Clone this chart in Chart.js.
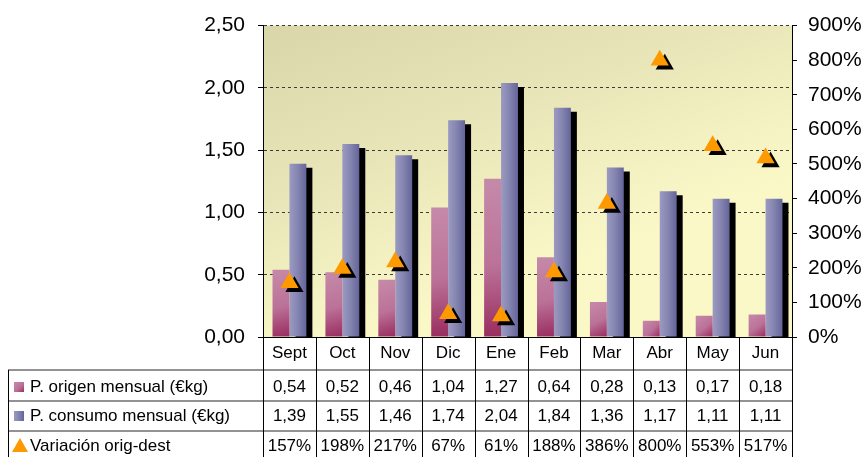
<!DOCTYPE html>
<html>
<head>
<meta charset="utf-8">
<script src="https://cdn.jsdelivr.net/npm/chart.js@4/dist/chart.umd.min.js"></script>
<style>
html,body{margin:0;padding:0;background:#fff;}
#wrap{width:864px;height:457px;position:relative;}
</style>
</head>
<body>
<div id="wrap"><canvas id="c" width="864" height="457"></canvas></div>
<script>
const categories = ['Sept','Oct','Nov','Dic','Ene','Feb','Mar','Abr','May','Jun'];
const origen = [0.54,0.52,0.46,1.04,1.27,0.64,0.28,0.13,0.17,0.18];
const consumo = [1.39,1.55,1.46,1.74,2.04,1.84,1.36,1.17,1.11,1.11];
const variacion = [157,198,217,67,61,188,386,800,553,517];
const seriesNames = ['P. origen mensual (€kg)','P. consumo mensual (€kg)','Variación orig-dest'];
const leftMax = 2.5, leftStep = 0.5;
const rightMax = 900, rightStep = 100;

const FONT = "'Liberation Sans', Arial, sans-serif";
const fmtDec = v => v.toFixed(2).replace('.', ',');
const fmtPct = v => Math.round(v) + '%';

function pinkGrad(ctx, x0, y0, x1, y1){
  const g = ctx.createLinearGradient(x0, y0, x1, y1);
  g.addColorStop(0, '#c68aa9');
  g.addColorStop(0.55, '#bb7298');
  g.addColorStop(1, '#992c5f');
  return g;
}
function purpleGrad(ctx, x0, x1){
  const g = ctx.createLinearGradient(x0, 0, x1, 0);
  g.addColorStop(0, '#9a9ac2');
  g.addColorStop(0.5, '#8484b0');
  g.addColorStop(1, '#64649a');
  return g;
}

const bgPlugin = {
  id: 'bg',
  beforeDraw(chart){
    const {ctx, chartArea: a} = chart;
    ctx.save();
    ctx.fillStyle = '#fff';
    ctx.fillRect(0, 0, chart.width, chart.height);
    const g = ctx.createLinearGradient(a.left, a.top, a.left + 120, a.bottom);
    g.addColorStop(0, '#d9d6a9');
    g.addColorStop(0.5, '#e8e5b8');
    g.addColorStop(1, '#fbf8c8');
    ctx.fillStyle = g;
    ctx.fillRect(a.left, a.top, a.right - a.left, a.bottom - a.top);
    ctx.restore();
  }
};

const shadowPlugin = {
  id: 'shadow',
  beforeDatasetDraw(chart, args){
    const ctx = chart.ctx;
    const idx = args.index;
    const meta = args.meta;
    if (idx === 0 || idx === 1) {
      meta.data.forEach(el => {
        const left = el.x - el.width / 2, right = el.x + el.width / 2;
        const bg = idx === 0 ? pinkGrad(ctx, left, el.y, right, el.base) : purpleGrad(ctx, left, right);
        el.options = Object.assign({}, el.options, {backgroundColor: bg});
      });
    }
    ctx.save();
    if (idx === 1) {
      ctx.shadowColor = '#000';
      ctx.shadowOffsetX = 6;
      ctx.shadowOffsetY = 4;
      ctx.shadowBlur = 0;
    } else if (idx === 2) {
      ctx.shadowColor = '#000';
      ctx.shadowOffsetX = 5;
      ctx.shadowOffsetY = 4;
      ctx.shadowBlur = 0;
    }
  },
  afterDatasetDraw(chart){
    chart.ctx.restore();
  }
};

const tablePlugin = {
  id: 'table',
  afterDraw(chart){
    const {ctx, chartArea: a} = chart;
    const xs = chart.scales.x;
    const n = categories.length;
    const cw = (a.right - a.left) / n;
    const H = chart.height;
    const tableLeft = 8;
    const rowLines = [a.bottom + 33, a.bottom + 64, a.bottom + 94];
    const rowCenters = [a.bottom + 16, a.bottom + 50, a.bottom + 79, a.bottom + 109];
    ctx.save();
    ctx.strokeStyle = '#6e6e6e';
    ctx.lineWidth = 1.5;
    rowLines.forEach(y => {
      ctx.beginPath();
      ctx.moveTo(tableLeft, y);
      ctx.lineTo(a.right, y);
      ctx.stroke();
    });
    ctx.strokeStyle = '#000';
    ctx.lineWidth = 1;
    for (let i = 0; i <= n; i++) {
      const x = Math.round(xs.getPixelForValue(Math.min(i, n - 1)) + (i === n ? cw / 2 : -cw / 2)) + 0.5;
      ctx.beginPath();
      ctx.moveTo(x, a.bottom);
      ctx.lineTo(x, H);
      ctx.stroke();
    }
    ctx.beginPath();
    ctx.moveTo(tableLeft + 0.5, rowLines[0]);
    ctx.lineTo(tableLeft + 0.5, H);
    ctx.stroke();

    ctx.fillStyle = '#000';
    ctx.font = '17px ' + FONT;
    ctx.textAlign = 'center';
    ctx.textBaseline = 'middle';
    categories.forEach((c, i) => {
      const x = xs.getPixelForValue(i);
      ctx.fillText(c, x, rowCenters[0]);
      ctx.fillText(fmtDec(origen[i]), x, rowCenters[1]);
      ctx.fillText(fmtDec(consumo[i]), x, rowCenters[2]);
      ctx.fillText(fmtPct(variacion[i]), x, rowCenters[3]);
    });
    ctx.textAlign = 'left';
    seriesNames.forEach((s, k) => {
      ctx.fillStyle = '#000';
      ctx.fillText(s, 30, rowCenters[k + 1]);
    });
    const ky1 = rowCenters[1] - 5, ky2 = rowCenters[2] - 5;
    ctx.fillStyle = pinkGrad(ctx, 14, ky1, 24, ky1 + 10);
    ctx.fillRect(14, ky1, 10, 10);
    ctx.fillStyle = purpleGrad(ctx, 14, 24);
    ctx.fillRect(14, ky2, 10, 10);
    const ty = rowCenters[3];
    ctx.fillStyle = '#ff9900';
    ctx.beginPath();
    ctx.moveTo(20, ty - 8);
    ctx.lineTo(28, ty + 6);
    ctx.lineTo(12, ty + 6);
    ctx.closePath();
    ctx.fill();
    ctx.restore();
  }
};

new Chart(document.getElementById('c'), {
  data: {
    labels: categories,
    datasets: [
      {type:'bar', label: seriesNames[0], data: origen, yAxisID:'y', backgroundColor:'#c080a0',
       borderWidth:0, categoryPercentage:0.64, barPercentage:1, order:1},
      {type:'bar', label: seriesNames[1], data: consumo, yAxisID:'y', backgroundColor:'#8888b4',
       borderWidth:0, categoryPercentage:0.64, barPercentage:1, order:1},
      {type:'line', label: seriesNames[2], data: variacion, yAxisID:'y1', showLine:false,
       pointStyle:'triangle', pointRadius:10.5, pointHoverRadius:10.5, pointBackgroundColor:'#ff9900',
       pointBorderColor:'rgba(0,0,0,0)', pointBorderWidth:0, order:0}
    ]
  },
  options: {
    responsive:false,
    animation:false,
    events:[],
    layout:{padding:{top:21, left:0, right:0, bottom:0}},
    plugins:{legend:{display:false}, tooltip:{enabled:false}},
    scales:{
      x:{
        position:'bottom',
        ticks:{display:false},
        grid:{display:false},
        border:{display:true, color:'#000', width:1},
        afterFit(s){ s.height = 120; }
      },
      y:{
        position:'left', min:0, max:leftMax,
        ticks:{stepSize:leftStep, color:'#000', font:{family:FONT, size:21}, padding:13,
               callback: v => fmtDec(v)},
        grid:{color:'#3a3a3a', lineWidth:1, tickLength:5, tickColor:'#000', drawTicks:true},
        border:{display:true, color:'#000', width:1, dash:[3,3]},
        afterFit(s){ s.width = 263; }
      },
      y1:{
        position:'right', min:0, max:rightMax,
        ticks:{stepSize:rightStep, color:'#000', font:{family:FONT, size:21}, padding:11,
               callback: v => fmtPct(v)},
        grid:{drawOnChartArea:false, tickLength:5, tickColor:'#000'},
        border:{display:true, color:'#000', width:1},
        afterFit(s){ s.width = 72; }
      }
    }
  },
  plugins:[bgPlugin, shadowPlugin, tablePlugin]
});
</script>
</body>
</html>
